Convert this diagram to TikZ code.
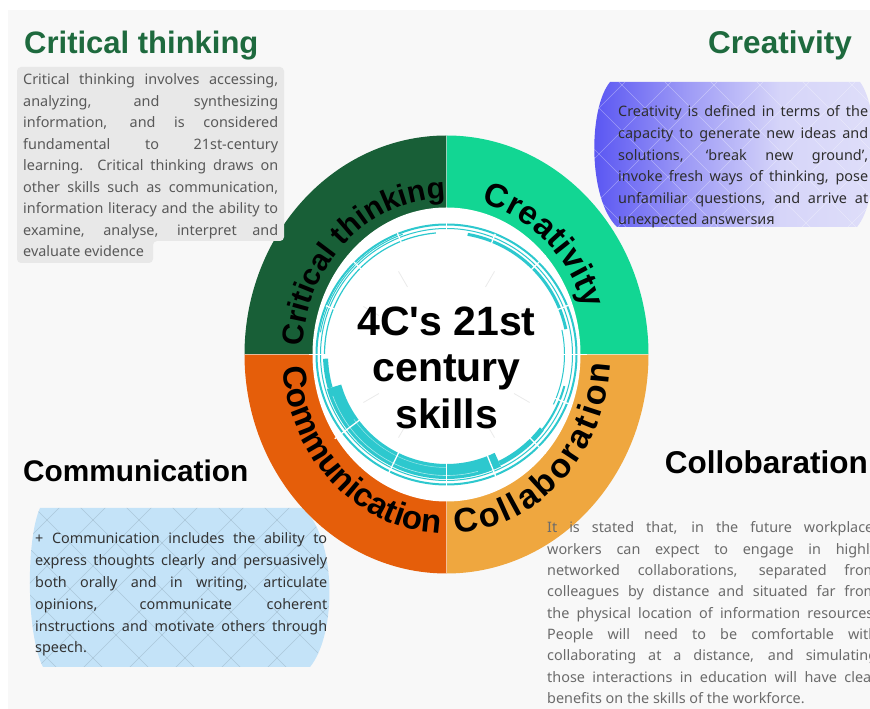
\documentclass[tikz,border=0pt]{standalone}
\usepackage{fontspec}
\setmainfont{Noto Sans}
\newfontfamily\headfont{Liberation Sans}
\usetikzlibrary{decorations.text,calc}

\definecolor{panel}{HTML}{F8F8F8}
\definecolor{ctgreen}{HTML}{185F37}
\definecolor{crgreen}{HTML}{12D693}
\definecolor{colorange}{HTML}{EFA73F}
\definecolor{comorange}{HTML}{E55E0A}
\definecolor{ringcyan}{HTML}{2DC8CE}
\definecolor{titlegreen}{HTML}{1E6A3E}
\definecolor{hlgray}{HTML}{E8E8E8}
\definecolor{skyfill}{HTML}{C4E3F8}
\definecolor{violet1}{HTML}{5652F2}
\definecolor{violet2}{HTML}{9E9BF6}
\definecolor{violet3}{HTML}{D6D5F9}
\definecolor{violet4}{HTML}{EDEDFA}

\pgfdeclarehorizontalshading{violetfade}{100bp}{color(0bp)=(violet1); color(25bp)=(violet1); color(42bp)=(violet2); color(58bp)=(violet3); color(100bp)=(violet4)}

\newcommand{\hfs}[1]{\headfont\bfseries\fontsize{#1}{#1}\selectfont}

\tikzset{
  heading/.style={inner sep=0pt, font=\hfs{#1}},
  body/.style={inner sep=0pt, anchor=base west, font=\fontsize{14.4}{16}\selectfont},
  ringlabel/.style={decorate, decoration={text along path, text align={fit to path}, text color=black, #1}},
  spoke/.style={white, line width=1.3pt},
  faintspoke/.style={black!8, line width=0.8pt},
  lattice/.style={line width=0.5pt},
}

\begin{document}
\begin{tikzpicture}[x=1pt,y=1pt]
\useasboundingbox (0,0) rectangle (870,709);
\fill[white] (0,0) rectangle (870,709);
\fill[panel] (8,0) rectangle (870,699);

% ---------- backdrop shapes behind the ring ----------
\path[shading=violetfade] (610,627) -- (860,627) .. controls (880,600) and (880,510) .. (857,482)
  -- (617,482) .. controls (588,510) and (588,600) .. (610,627) -- cycle;
\begin{scope}
  \clip (610,627) -- (860,627) .. controls (880,600) and (880,510) .. (857,482)
    -- (617,482) .. controls (588,510) and (588,600) .. (610,627) -- cycle;
  \foreach \k in {-8,...,8} {
    \draw[lattice, white, opacity=0.35] ({560+\k*46},470) -- ++(170,170);
    \draw[lattice, white, opacity=0.35] ({560+\k*46},640) -- ++(170,-170);
  }
\end{scope}
\fill[skyfill] (40,201) -- (303,201) .. controls (337,170) and (337,75) .. (310,42)
  -- (43,42) .. controls (26,75) and (26,170) .. (40,201) -- cycle;
\begin{scope}
  \clip (40,201) -- (303,201) .. controls (337,170) and (337,75) .. (310,42)
    -- (43,42) .. controls (26,75) and (26,170) .. (40,201) -- cycle;
  \foreach \k in {-8,...,10} {
    \draw[lattice, black, opacity=0.12] ({-20+\k*46},30) -- ++(180,180);
    \draw[lattice, black, opacity=0.12] ({-20+\k*46},210) -- ++(180,-180);
  }
\end{scope}

% ---------- central ring ----------
\coordinate (C) at (446.5,354.5);
\fill[ctgreen]   (C) -- ++(-202,0) arc[start angle=180, end angle=90,  x radius=202, y radius=219] -- cycle;
\fill[crgreen]   (C) -- ++(0,219)  arc[start angle=90,  end angle=0,   x radius=202, y radius=219] -- cycle;
\fill[colorange] (C) -- ++(202,0)  arc[start angle=0,   end angle=-90, x radius=202, y radius=219] -- cycle;
\fill[comorange] (C) -- ++(0,-219) arc[start angle=270, end angle=180, x radius=202, y radius=219] -- cycle;
\foreach \a in {0,90,180,270}
  \draw[white, opacity=0.45, line width=0.8pt] ($(C)+(\a:130)$) -- ($(C)+({202*cos(\a)},{219*sin(\a)})$);
\fill[white] (C) ellipse[x radius=134, y radius=147];

% hand-drawn looking cyan rings
\draw[ringcyan, line width=2pt]   (C) circle[radius=130];
\draw[ringcyan, line width=1pt]   (C) circle[radius=126];
\draw[ringcyan, line width=5pt]   ($(C)+(182:121)$) arc[start angle=182, end angle=196, radius=121];
\draw[ringcyan, line width=15pt]  ($(C)+(196:117)$) arc[start angle=196, end angle=296, radius=117];
\draw[ringcyan, line width=5pt]   ($(C)+(296:121)$) arc[start angle=296, end angle=322, radius=121];
\draw[ringcyan, line width=2pt]   ($(C)+(322:122)$) arc[start angle=322, end angle=345, radius=122];
\draw[white, opacity=0.6, line width=0.6pt] ($(C)+(200:121)$) arc[start angle=200, end angle=285, radius=121];
\draw[white, opacity=0.5, line width=0.5pt] ($(C)+(215:113)$) arc[start angle=215, end angle=270, radius=113];
\draw[ringcyan, line width=1.2pt] ($(C)+(95:122)$)  arc[start angle=95,  end angle=180, radius=122];
\draw[ringcyan, line width=1pt]   ($(C)+(110:128)$) arc[start angle=110, end angle=170, radius=128];
\draw[ringcyan, line width=3pt]   ($(C)+(12:122)$)  arc[start angle=12,  end angle=80,  radius=122];
\draw[ringcyan, line width=1pt]   ($(C)+(-25:118)$) arc[start angle=-25, end angle=12,  radius=118];

% light spokes over the rings
\foreach \a/\ra/\rb in {90/100/140, 0/105/140, 180/95/138, 270/100/140, 45/110/140, 135/108/134,
                        217/100/140, 315/108/140, 22/112/132, 158/112/130, 244/104/136,
                        292/108/134, 338/112/132, 68/114/130, 112/114/131}
  \draw[spoke] ($(C)+(\a:\ra)$) -- ($(C)+(\a:\rb)$);
\foreach \a in {30,60,120,150,210,240,300,330}
  \draw[faintspoke] ($(C)+(\a:78)$) -- ($(C)+(\a:96)$);

% curved quadrant labels
\path[ringlabel={text={|\hfs{30}|Critical thinking}}]
  ($(C)+({144*cos(177)},{156*sin(177)})$) arc[start angle=177, end angle=91, x radius=144, y radius=156];
\path[ringlabel={text={|\hfs{33}|Creativity}}]
  ($(C)+({144*cos(76)},{156*sin(76)})$) arc[start angle=76, end angle=17, x radius=144, y radius=156];
\path[ringlabel={text={|\hfs{33}|Communication}}]
  ($(C)+({164*cos(184)},{179*sin(184)})$) arc[start angle=184, end angle=268, x radius=164, y radius=179];
\path[ringlabel={text={|\hfs{34}|Collaboration}}]
  ($(C)+({164*cos(273)},{179*sin(273)})$) arc[start angle=273, end angle=357, x radius=164, y radius=179];

% centre title
\node[inner sep=0pt, align=center, font=\hfs{41}\fontsize{41}{46.5}\selectfont] (hub) at (446.5,341.5)
  {4C\textquotesingle s 21st\\century\\skills};

% ---------- Critical thinking (top left) ----------
\fill[hlgray, rounded corners=4pt] (17,642) -- (284,642) -- (284,468) -- (153,468) -- (153,446) -- (17,446) -- cycle;
\node[heading=31, text=titlegreen, anchor=base west] (cthead) at (24,655) {Critical thinking};
\foreach \txt [count=\i] in {
  {Critical thinking involves accessing,},
  {analyzing, and synthesizing},
  {information, and is considered},
  {fundamental to 21st-century},
  {learning. Critical thinking draws on},
  {other skills such as communication,},
  {information literacy and the ability to},
  {examine, analyse, interpret and}}
  \node[body, text=black!65] (ct\i) at (23,{709-85-(\i-1)*21.45}) {\makebox[255pt][s]{\txt}};
\node[body, text=black!65] (ct9) at (23,{709-85-8*21.45}) {evaluate evidence};

% ---------- Creativity (top right) ----------
\node[heading=31.5, text=titlegreen, anchor=base east] (crhead) at (852,655) {Creativity};
\foreach \txt [count=\i] in {
  {Creativity is defined in terms of the},
  {capacity to generate new ideas and},
  {solutions, ‘break new ground’,},
  {invoke fresh ways of thinking, pose},
  {unfamiliar questions, and arrive at}}
  \node[body, text=black!82] (cr\i) at (618,{709-117-(\i-1)*21.6}) {\makebox[250pt][s]{\txt}};
\node[body, text=black!82] (cr6) at (618,{709-117-5*21.6}) {unexpected answersия};

% ---------- Communication (bottom left) ----------
\node[heading=29.8, text=black, anchor=base west] (cmhead) at (23,227) {Communication};
\foreach \txt [count=\i] in {
  {+ Communication includes the ability to},
  {express thoughts clearly and persuasively},
  {both orally and in writing, articulate},
  {opinions, communicate coherent},
  {instructions and motivate others through}}
  \node[body, text=black!80] (cm\i) at (35,{709-544-(\i-1)*21.8}) {\makebox[292pt][s]{\txt}};
\node[body, text=black!80] (cm6) at (35,{709-544-5*21.8}) {speech.};

% ---------- Collaboration (bottom right) ----------
\node[heading=31.5, text=black, anchor=base east] (clhead) at (868,235) {Collobaration};
\begin{scope}
  \clip (0,0) rectangle (870,709);
  \foreach \txt [count=\i] in {
    {It is stated that, in the future workplace,},
    {workers can expect to engage in highly},
    {networked collaborations, separated from},
    {colleagues by distance and situated far from},
    {the physical location of information resources.},
    {People will need to be comfortable with},
    {collaborating at a distance, and simulating},
    {those interactions in education will have clear}}
    \node[body, text=black!58] (cl\i) at (547,{709-533-(\i-1)*21.3}) {\makebox[330pt][s]{\txt}};
  \node[body, text=black!58] (cl9) at (547,{709-533-8*21.3}) {benefits on the skills of the workforce.};
\end{scope}
\end{tikzpicture}
\end{document}
